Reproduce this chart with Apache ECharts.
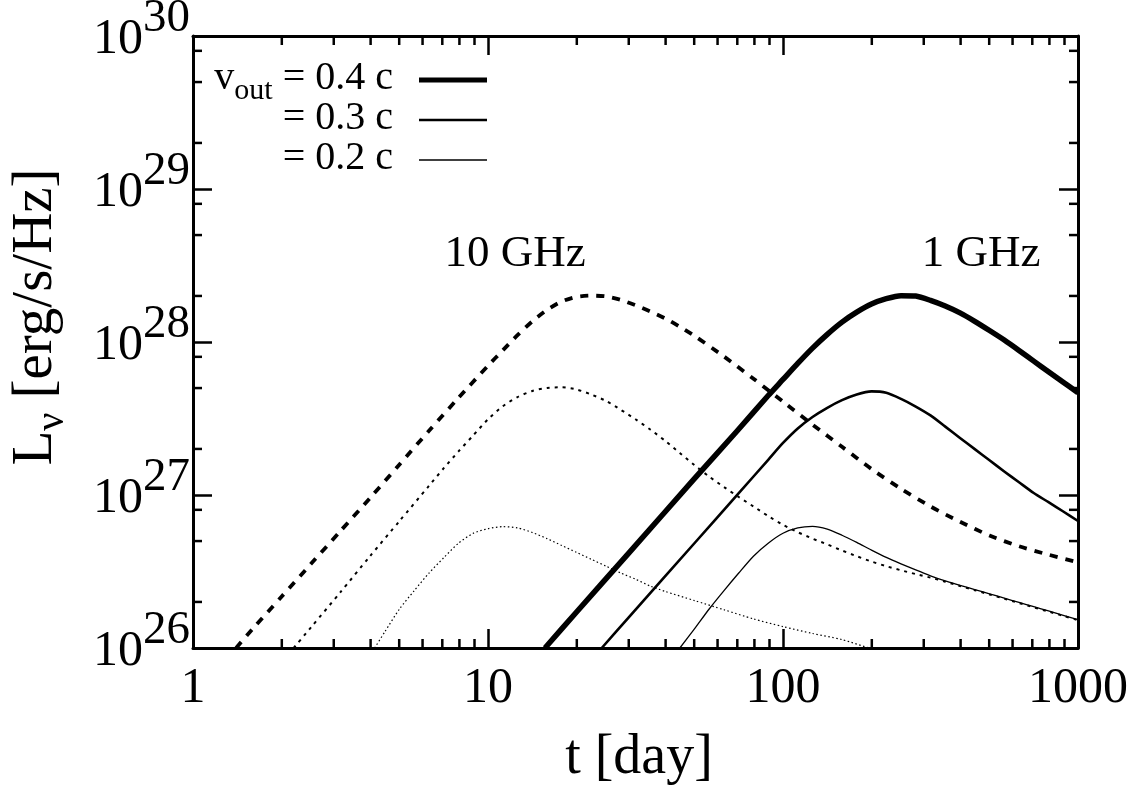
<!DOCTYPE html>
<html>
<head>
<meta charset="utf-8">
<title>Radio light curves</title>
<script src="https://cdn.jsdelivr.net/npm/echarts@6/dist/echarts.min.js"></script>
<style>
  html, body { margin: 0; padding: 0; background: #fff; }
  #chart { width: 1134px; height: 787px; }
</style>
</head>
<body>
<div id="chart"></div>
<script>
// Axis decades and minor tick mantissas
const xDecades = [1, 10, 100, 1000];
const yDecades = [1e26, 1e27, 1e28, 1e29, 1e30];
const yMinorMantissas = [2, 5, 8];

// Light curves: [t (day), log10 L_nu (erg/s/Hz)]
// 1 GHz
const ghz1_v04 = [[15.6,26.0],[20,26.237],[30,26.62],[50,27.105],[70,27.42],[89.1,27.65],[100,27.755],
  [112.2,27.86],[125.9,27.96],[141.3,28.05],[158.5,28.13],[177.8,28.195],[199.5,28.248],[223.9,28.283],
  [251.2,28.303],[281.8,28.300],[316.2,28.272],[354.8,28.235],[398.1,28.19],[446.7,28.135],[501.2,28.075],
  [562.3,28.013],[631,27.945],[707.9,27.875],[794.3,27.805],[891.3,27.737],[1000,27.668]];
const ghz1_v03 = [[24.3,26.0],[30,26.2],[50,26.683],[70.8,27.012],[89.1,27.23],[100,27.34],[112.2,27.435],
  [125.9,27.51],[141.3,27.57],[158.5,27.62],[177.8,27.657],[199.5,27.677],[223.9,27.668],[251.2,27.628],
  [281.8,27.578],[316.2,27.52],[354.8,27.447],[398.1,27.373],[446.7,27.30],[501.2,27.227],[562.3,27.154],
  [631,27.083],[707.9,27.013],[794.3,26.953],[891.3,26.892],[1000,26.83]];
const ghz1_v02 = [[44.7,26.0],[50.1,26.125],[56.2,26.255],[63.1,26.375],[70.8,26.49],[79.4,26.60],
  [89.1,26.685],[100,26.75],[112.2,26.785],[125.9,26.795],[141.3,26.777],[158.5,26.737],[177.8,26.69],
  [199.5,26.64],[223.9,26.592],[251.2,26.55],[281.8,26.51],[316.2,26.472],[354.8,26.438],[398.1,26.41],
  [446.7,26.382],[501.2,26.354],[562.3,26.326],[631,26.298],[707.9,26.27],[794.3,26.242],[891.3,26.213],
  [1000,26.185]];
// 10 GHz
const ghz10_v04 = [[1.40,26.0],[1.585,26.12],[1.995,26.335],[2.512,26.55],[3.162,26.765],[3.981,26.98],
  [5.012,27.20],[6.31,27.42],[7.943,27.635],[10,27.845],[11.22,27.945],[12.59,28.045],[14.13,28.135],
  [15.85,28.21],[17.78,28.265],[19.95,28.295],[22.39,28.303],[25.12,28.298],[28.18,28.275],[31.62,28.24],
  [35.48,28.20],[39.81,28.155],[44.67,28.10],[50.12,28.04],[63.1,27.905],[79.43,27.76],[100,27.61],
  [125.9,27.46],[158.5,27.315],[199.5,27.17],[251.2,27.04],[316.2,26.925],[398.1,26.825],[501.2,26.735],
  [631,26.665],[794.3,26.61],[1000,26.56]];
const ghz10_v03 = [[2.194,26.0],[2.512,26.135],[3.162,26.365],[3.981,26.60],[5.012,26.83],[6.31,27.06],
  [7.079,27.175],[7.943,27.285],[8.913,27.39],[10,27.495],[11.22,27.58],[12.59,27.64],[14.13,27.68],
  [15.85,27.70],[17.78,27.704],[19.95,27.69],[22.39,27.657],[25.12,27.615],[28.18,27.557],[31.62,27.495],
  [35.48,27.428],[39.81,27.355],[44.67,27.275],[50.12,27.195],[56.23,27.12],[63.1,27.052],[70.79,26.987],
  [79.43,26.925],[89.13,26.862],[100,26.805],[112.2,26.757],[125.9,26.715],[141.3,26.677],[158.5,26.637],
  [177.8,26.60],[199.5,26.565],[223.9,26.535],[251.2,26.508],[281.8,26.483],[316.2,26.46],[354.8,26.433],
  [398.1,26.405],[446.7,26.378],[501.2,26.35],[562.3,26.322],[631,26.294],[707.9,26.266],[794.3,26.238],
  [891.3,26.21],[1000,26.182]];
const ghz10_v02 = [[4.13,26.0],[4.467,26.105],[5.012,26.255],[5.623,26.375],[6.31,26.49],[7.079,26.59],
  [7.943,26.685],[8.913,26.75],[10,26.78],[11.22,26.793],[12.59,26.785],[14.13,26.755],[15.85,26.715],
  [17.78,26.67],[19.95,26.625],[22.39,26.58],[25.12,26.535],[28.18,26.49],[31.62,26.45],[35.48,26.405],
  [39.81,26.37],[50.12,26.31],[63.1,26.25],[79.43,26.19],[100,26.14],[125.9,26.095],[158.5,26.055],
  [195,26.0]];

const legendRows = ['0.4', '0.3', '0.2'];
const bandLabels = ['10 GHz', '1 GHz'];

const FONT = "'Liberation Serif', 'DejaVu Serif', serif";

// [t, log10 L] -> [t, L]
const toLum = pts => pts.map(p => [p[0], Math.pow(10, p[1])]);

// minor tick positions
const xMinor = [];
xDecades.slice(0, -1).forEach(d => { for (let k = 2; k <= 9; k++) xMinor.push([d * k, yDecades[0]]); });
const yMinor = [];
yDecades.slice(0, -1).forEach(d => yMinorMantissas.forEach(m => yMinor.push([xDecades[0], d * m])));

const chart = echarts.init(document.getElementById('chart'), null, { renderer: 'canvas' });

const axisLineStyle = { color: '#000', width: 3 };
const majorTick = { show: true, inside: true, length: 19, lineStyle: { color: '#000', width: 2.5 } };

function supLabel(v) {
  const e = Math.round(Math.log10(v));
  return '{b|10}{s|' + e + '}';
}

function xAxisDef(pos, labels) {
  return {
    type: 'log', logBase: 10, min: 1, max: 1000, position: pos, splitNumber: 3,
    axisLine: { show: true, lineStyle: axisLineStyle },
    axisTick: majorTick,
    splitLine: { show: false },
    minorTick: { show: false },
    axisLabel: labels ? {
      show: true, fontFamily: FONT, fontSize: 50, color: '#000', margin: 16,
      formatter: v => String(Math.round(v))
    } : { show: false },
    name: labels ? 't [day]' : '',
    nameLocation: 'middle', nameGap: 82,
    nameTextStyle: { fontFamily: FONT, fontSize: 56, color: '#000', padding: [0, 0, 0, 7] }
  };
}
function yAxisDef(pos, labels) {
  return {
    type: 'log', logBase: 10, min: 1e26, max: 1e30, position: pos, splitNumber: 4,
    axisLine: { show: true, lineStyle: axisLineStyle },
    axisTick: majorTick,
    splitLine: { show: false },
    minorTick: { show: false },
    axisLabel: labels ? {
      show: true, margin: 3, formatter: supLabel, padding: [8, 0, 0, 0],
      rich: {
        b: { fontFamily: FONT, fontSize: 50, color: '#000', lineHeight: 90, verticalAlign: 'middle' },
        s: { fontFamily: FONT, fontSize: 47, color: '#000', lineHeight: 48, verticalAlign: 'top' }
      }
    } : { show: false },
    name: labels ? '{b|L}{s|ν}{b| [erg/s/Hz]}' : '',
    nameLocation: 'middle', nameGap: 121, nameRotate: 90,
    nameTextStyle: {
      padding: [0, 0, 0, 50],
      rich: {
        b: { fontFamily: FONT, fontSize: 57, color: '#000', lineHeight: 72, verticalAlign: 'middle' },
        s: { fontFamily: FONT, fontSize: 40, color: '#000', lineHeight: 40, verticalAlign: 'bottom' }
      }
    }
  };
}

function curve(name, data, width, dash) {
  return {
    name: name, type: 'line', data: toLum(data), xAxisIndex: 0, yAxisIndex: 0,
    showSymbol: false, smooth: 0.25, clip: true, silent: true, animation: false,
    lineStyle: { color: '#000', width: width, type: dash || 'solid', cap: 'butt', join: 'round' }
  };
}

function tickSeries(data, isX) {
  return {
    type: 'custom', data: data, xAxisIndex: 0, yAxisIndex: 0, silent: true, animation: false, z: 5,
    renderItem: function (params, api) {
      const l = 9;
      const st = { stroke: '#000', lineWidth: 2.5 };
      let a, b;
      if (isX) {
        a = api.coord([api.value(0), yDecades[0]]);
        b = api.coord([api.value(0), yDecades[yDecades.length - 1]]);
        return { type: 'group', children: [
          { type: 'line', shape: { x1: a[0], y1: a[1], x2: a[0], y2: a[1] - l }, style: st },
          { type: 'line', shape: { x1: b[0], y1: b[1], x2: b[0], y2: b[1] + l }, style: st }
        ] };
      }
      a = api.coord([xDecades[0], api.value(1)]);
      b = api.coord([xDecades[xDecades.length - 1], api.value(1)]);
      return { type: 'group', children: [
        { type: 'line', shape: { x1: a[0], y1: a[1], x2: a[0] + l, y2: a[1] }, style: st },
        { type: 'line', shape: { x1: b[0], y1: b[1], x2: b[0] - l, y2: b[1] }, style: st }
      ] };
    }
  };
}

const legendWidths = [5, 2.6, 1.3];
const legendGraphics = [];
legendRows.forEach((v, i) => {
  const y = 80 + i * 40;
  legendGraphics.push({
    type: 'text', x: 393, y: y - 2,
    style: {
      text: i === 0 ? '{v|v}{o|out}{t| = ' + v + ' c}' : '{t|= ' + v + ' c}',
      align: 'right', verticalAlign: 'middle',
      rich: {
        v: { fontFamily: FONT, fontSize: 40, fill: '#000', lineHeight: 40, verticalAlign: 'top' },
        o: { fontFamily: FONT, fontSize: 30, fill: '#000', lineHeight: 30, verticalAlign: 'bottom', padding: [0, 0, -8, 0] },
        t: { fontFamily: FONT, fontSize: 40, fill: '#000', lineHeight: 40, verticalAlign: 'top' }
      }
    }
  });
  legendGraphics.push({
    type: 'line', shape: { x1: 419, y1: y, x2: 487, y2: y },
    style: { stroke: '#000', lineWidth: legendWidths[i] }
  });
});

chart.setOption({
  animation: false,
  backgroundColor: '#fff',
  grid: { left: 193, right: 56, top: 36, bottom: 139, show: false, containLabel: false, outerBoundsMode: 'none' },
  xAxis: [xAxisDef('bottom', true), xAxisDef('top', false)],
  yAxis: [yAxisDef('left', true), yAxisDef('right', false)],
  series: [
    curve('10 GHz 0.4c', ghz10_v04, 3.8, [8, 8]),
    curve('10 GHz 0.3c', ghz10_v03, 2, [3, 5]),
    curve('10 GHz 0.2c', ghz10_v02, 1.2, [1.5, 2.5]),
    curve('1 GHz 0.4c', ghz1_v04, 5.5),
    curve('1 GHz 0.3c', ghz1_v03, 2.6),
    curve('1 GHz 0.2c', ghz1_v02, 1.3),
    tickSeries(xMinor, true),
    tickSeries(yMinor, false)
  ],
  graphic: legendGraphics.concat([
    { type: 'text', x: 515, y: 254, style: { text: bandLabels[0], font: '45px ' + FONT, fill: '#000', align: 'center', verticalAlign: 'middle' } },
    { type: 'text', x: 981, y: 254, style: { text: bandLabels[1], font: '45px ' + FONT, fill: '#000', align: 'center', verticalAlign: 'middle' } }
  ])
});
</script>
</body>
</html>
